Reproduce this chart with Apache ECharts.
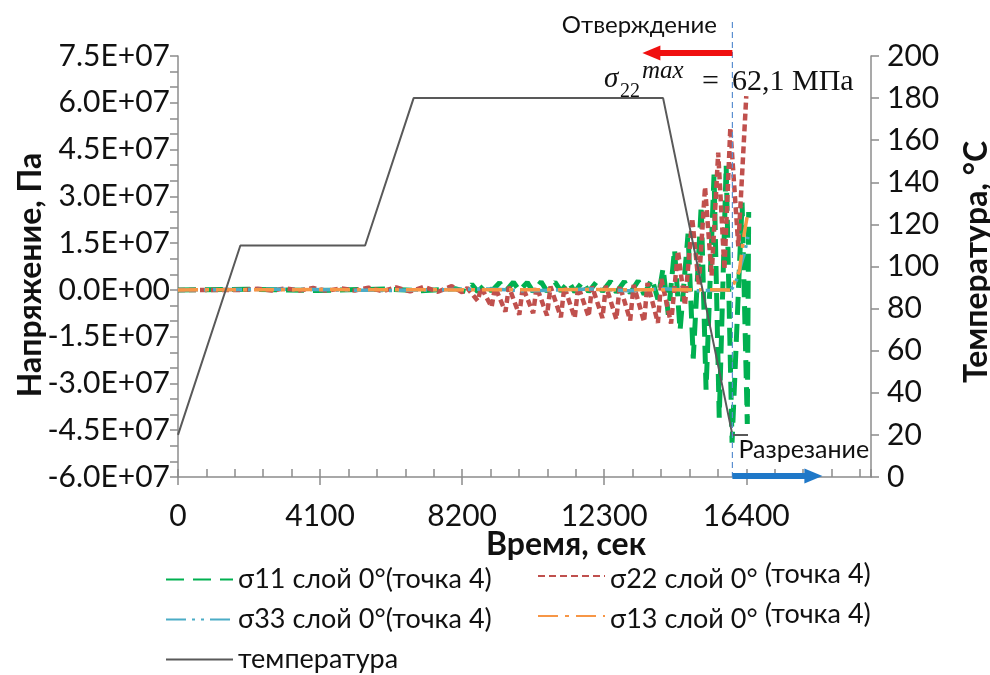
<!DOCTYPE html>
<html>
<head>
<meta charset="utf-8">
<script src="https://cdn.jsdelivr.net/npm/echarts@6/dist/echarts.min.js"></script>
<style>
  html, body { margin: 0; padding: 0; background: #fff; }
  #chart { width: 990px; height: 675px; }
</style>
</head>
<body>
<div id="chart"></div>
<script>
// Time ticks (s) and axis ranges
const timeTicks = [0, 4100, 8200, 12300, 16400];
const stressTicks = [-6.0e7, -4.5e7, -3.0e7, -1.5e7, 0, 1.5e7, 3.0e7, 4.5e7, 6.0e7, 7.5e7];
const tempTicks = [0, 20, 40, 60, 80, 100, 120, 140, 160, 180, 200];

// Moment of cutting, s
const cutTime = 16000;

// Cure cycle temperature, [s, °C]
const temperature = [[0, 20], [1800, 110], [5400, 110], [6800, 180], [14000, 180], [16000, 20], [16450, 20]];

// Stresses in layer 0° (point 4), [s, MPa]
const sigma11 = [
  [0, 0], [2000, 0.2], [4000, -0.2], [6000, 0.3], [7000, -0.3], [8000, 0.4], [8300, -0.5],
  [8480, 1.8], [8650, -0.6], [8880, 2.0], [9050, -0.4], [9280, 2.3], [9450, -0.5],
  [9680, 2.5], [9850, -0.3], [10080, 2.4], [10250, -0.6], [10480, 2.6], [10650, -0.5],
  [10880, 2.5], [11050, -0.4], [11280, 2.6], [11450, -0.7], [11680, 2.7], [11850, -0.6],
  [12080, 2.6], [12250, -0.5], [12480, 2.8], [12650, -0.8], [12880, 2.7], [13050, -1.0],
  [13280, 2.9], [13450, -1.5], [13680, 3.5], [13850, -3.0], [14000, 7], [14150, -8],
  [14330, 13], [14490, -13], [14720, 18], [14870, -22], [15100, 27], [15240, -32],
  [15470, 37], [15620, -41], [15820, 40], [15990, -49], [16280, 28], [16430, -43], [16470, 25]
];
const sigma22 = [
  [0, 0], [1900, 0], [2300, 0.4], [2700, -0.2], [3100, 0.5], [3500, -0.2], [3900, 0.6],
  [4300, -0.3], [4700, 0.5], [5100, -0.2], [5500, 0.7], [5900, -0.4], [6300, 0.8],
  [6700, -0.5], [7100, 1.0], [7500, -0.6], [7900, 1.2], [8200, -0.8],
  [8350, 0.6], [8650, -3.5], [8750, 0.8], [9050, -5.5], [9150, 0.9], [9450, -7.0],
  [9550, 1.0], [9850, -8.0], [9950, 0.9], [10250, -7.5], [10350, 1.0], [10650, -8.2],
  [10750, 1.1], [11050, -8.8], [11150, 1.0], [11450, -9.0], [11550, 1.2], [11850, -8.6],
  [11950, 1.1], [12250, -9.0], [12350, 1.3], [12650, -9.4], [12750, 1.4], [13050, -9.8],
  [13150, 1.6], [13450, -10.2], [13550, 2.2], [13850, -10.6], [13950, 3.5], [14230, -10.8],
  [14430, 12.5], [14630, -5], [14840, 23], [15030, 1.5], [15210, 33], [15400, 4.5],
  [15590, 44], [15770, 6.5], [15940, 52], [16170, 14], [16400, 62.1]
];
const sigma33 = [
  [0, 0], [3000, 0.2], [6000, -0.2], [9000, 0.3], [10000, -0.3], [12000, 0.3], [13000, -0.3],
  [14000, 0.4], [15000, -0.3], [15960, 0], [16100, 2.5], [16350, 12], [16450, 17]
];
const sigma13 = [
  [0, 0], [4000, 0.1], [8000, 0], [12000, 0.1], [15960, 0], [16200, 6], [16340, 18], [16450, 25]
];

const names = {
  s11: 'σ11 слой 0°(точка 4)',
  s22: 'σ22 слой 0° (точка 4)',
  s33: 'σ33 слой 0°(точка 4)',
  s13: 'σ13 слой 0° (точка 4)',
  temp: 'температура'
};

const MPA = 1e6;
const toPa = arr => arr.map(([t, v]) => [t, v * MPA]);

const FONT = 'Lato, "Open Sans", sans-serif';
const SERIF = '"Liberation Serif", "DejaVu Serif", serif';
const AXIS_COLOR = '#8c8c8c';
const TEXT_COLOR = '#111';

function sci(v) {
  if (v === 0) return '0.0E+00';
  const e = Math.floor(Math.log10(Math.abs(v)) + 1e-9);
  const m = v / Math.pow(10, e);
  return m.toFixed(1) + 'E' + (e < 0 ? '-' : '+') + String(Math.abs(e)).padStart(2, '0');
}

const chart = echarts.init(document.getElementById('chart'), null, { renderer: 'canvas' });

const gridBox = { left: 178, right: 119, top: 56, bottom: 198 };

function lineSeries(name, data, color, width, dash, z) {
  return {
    name, type: 'line', data: toPa(data), xAxisIndex: 0, yAxisIndex: 0,
    symbol: 'none', showSymbol: false, z,
    lineStyle: { color, width, type: dash, cap: 'butt' },
    itemStyle: { color }
  };
}

// one legend block per entry; the "(точка 4)" part of the right column sits slightly higher
function legendAt(name, left, top, raised) {
  const lg = {
    data: [name], left, top, padding: 0, itemGap: 0,
    itemWidth: 67, itemHeight: 16,
    itemStyle: { color: 'rgba(0,0,0,0)', borderColor: 'rgba(0,0,0,0)', borderWidth: 0 },
    textStyle: {
      fontFamily: FONT, fontSize: 27, color: TEXT_COLOR,
      rich: {
        a: { fontFamily: FONT, fontSize: 27, color: TEXT_COLOR, verticalAlign: 'bottom', lineHeight: 34 },
        b: { fontFamily: FONT, fontSize: 27, color: TEXT_COLOR, verticalAlign: 'bottom', lineHeight: 34, padding: [0, 0, 5, 7] }
      }
    }
  };
  if (raised) {
    lg.formatter = n => {
      const i = n.indexOf('(');
      return '{a|' + n.slice(0, i).trim() + '}{b|' + n.slice(i) + '}';
    };
  }
  return lg;
}

const option = {
  animation: false,
  backgroundColor: '#fff',
  grid: gridBox,
  legend: [
    legendAt(names.s11, 165, 566, false),
    legendAt(names.s22, 537, 561, true),
    legendAt(names.s33, 165, 606, false),
    legendAt(names.s13, 537, 601, true),
    legendAt(names.temp, 165, 646, false)
  ],
  xAxis: [
    {
      type: 'value', min: 0, max: 20000, interval: timeTicks[1] - timeTicks[0],
      axisLine: { show: true, onZero: false, lineStyle: { color: AXIS_COLOR, width: 1.5 } },
      axisTick: { show: true, inside: false, length: 8, lineStyle: { color: AXIS_COLOR, width: 1.5 } },
      axisLabel: {
        fontFamily: FONT, fontSize: 30, color: TEXT_COLOR, margin: 24, showMaxLabel: false,
        formatter: v => (timeTicks.indexOf(v) >= 0 ? String(v) : '')
      },
      splitLine: { show: false }
    },
    {
      // minor time ticks, drawn inside the plot
      type: 'value', min: 0, max: 20000, interval: (timeTicks[1] - timeTicks[0]) / 5,
      position: 'bottom',
      axisLine: { show: false, onZero: false },
      axisTick: { show: true, inside: true, length: 8, lineStyle: { color: AXIS_COLOR, width: 1.5 } },
      axisLabel: { show: false },
      splitLine: { show: false }
    }
  ],
  yAxis: [
    {
      type: 'value', min: stressTicks[0], max: stressTicks[stressTicks.length - 1],
      interval: stressTicks[1] - stressTicks[0],
      axisLine: { show: true, onZero: false, lineStyle: { color: AXIS_COLOR, width: 1.5 } },
      axisTick: { show: true, inside: false, length: 8, lineStyle: { color: AXIS_COLOR, width: 1.5 } },
      minorTick: { show: true, splitNumber: 3, length: 8, lineStyle: { color: AXIS_COLOR, width: 1.5 } },
      axisLabel: { fontFamily: FONT, fontSize: 30, color: TEXT_COLOR, margin: 8, formatter: sci },
      splitLine: { show: false }, minorSplitLine: { show: false }
    },
    {
      type: 'value', min: tempTicks[0], max: tempTicks[tempTicks.length - 1],
      interval: tempTicks[1] - tempTicks[0], position: 'right',
      axisLine: { show: true, onZero: false, lineStyle: { color: AXIS_COLOR, width: 1.5 } },
      axisTick: { show: true, inside: false, length: 8, lineStyle: { color: AXIS_COLOR, width: 1.5 } },
      axisLabel: { fontFamily: FONT, fontSize: 30, color: TEXT_COLOR, margin: 16 },
      splitLine: { show: false }
    }
  ],
  series: [
    lineSeries(names.s11, sigma11, '#00B050', 5, [18, 9], 2),
    lineSeries(names.s22, sigma22, '#C0504D', 4.5, [7, 4], 3),
    lineSeries(names.s33, sigma33, '#4BACC6', 3.5, [20, 6, 3, 6, 3, 6], 4),
    lineSeries(names.s13, sigma13, '#F79646', 3.5, [20, 7, 4, 7], 5),
    {
      name: names.temp, type: 'line', data: temperature, xAxisIndex: 0, yAxisIndex: 1,
      symbol: 'none', showSymbol: false, z: 6,
      lineStyle: { color: '#595959', width: 2 }, itemStyle: { color: '#595959' }
    }
  ]
};

chart.setOption(option);

// Annotations tied to the cutting moment
const [xCut, yBottom] = chart.convertToPixel({ xAxisIndex: 0, yAxisIndex: 0 }, [cutTime, stressTicks[0]]);
const peak22 = Math.max(...sigma22.map(p => p[1]));
const peakText = peak22.toFixed(1).replace('.', ',') + ' МПа';

const titleFont = 'bold 32px ' + FONT;

chart.setOption({
  graphic: [
    // axis titles
    {
      type: 'text', z: 21, x: 31, y: 275, rotation: Math.PI / 2,
      style: { text: 'Напряжение, Па', font: titleFont, fill: TEXT_COLOR, align: 'center', verticalAlign: 'middle' }
    },
    {
      type: 'text', z: 21, x: 977, y: 262, rotation: Math.PI / 2,
      style: { text: 'Температура, °C', font: titleFont, fill: TEXT_COLOR, align: 'center', verticalAlign: 'middle' }
    },
    {
      type: 'text', z: 21, x: 566, y: 545,
      style: { text: 'Время, сек', font: titleFont, fill: TEXT_COLOR, align: 'center', verticalAlign: 'middle' }
    },
    {
      type: 'line', z: 20,
      shape: { x1: xCut, y1: 22, x2: xCut, y2: yBottom },
      style: { stroke: '#5B8FD0', lineWidth: 1.2, lineDash: [6, 4] }
    },
    // curing arrow (to the left)
    {
      type: 'line', z: 20,
      shape: { x1: xCut, y1: 53, x2: xCut - 74, y2: 53 },
      style: { stroke: '#F01010', lineWidth: 6 }
    },
    {
      type: 'polygon', z: 20,
      shape: { points: [[xCut - 90, 53], [xCut - 72, 45.5], [xCut - 72, 60.5]] },
      style: { fill: '#F01010' }
    },
    // cutting arrow (to the right)
    {
      type: 'line', z: 20,
      shape: { x1: xCut, y1: yBottom - 1, x2: xCut + 74, y2: yBottom - 1 },
      style: { stroke: '#1F78C8', lineWidth: 6 }
    },
    {
      type: 'polygon', z: 20,
      shape: { points: [[xCut + 90, yBottom - 1], [xCut + 72, yBottom - 8.5], [xCut + 72, yBottom + 6.5]] },
      style: { fill: '#1F78C8' }
    },
    {
      type: 'text', z: 21, x: 717, y: 25,
      style: { text: 'Отверждение', font: '24px ' + FONT, fill: TEXT_COLOR, align: 'right', verticalAlign: 'middle' }
    },
    {
      type: 'text', z: 21, x: xCut + 6, y: 450,
      style: { text: 'Разрезание', font: '25px ' + FONT, fill: TEXT_COLOR, align: 'left', verticalAlign: 'middle' }
    },
    // sigma_22^max label
    {
      type: 'text', z: 21, x: 604, y: 79,
      style: { text: 'σ', font: 'italic 29px ' + SERIF, fill: TEXT_COLOR, align: 'left', verticalAlign: 'middle' }
    },
    {
      type: 'text', z: 21, x: 620, y: 92,
      style: { text: '22', font: '20px ' + SERIF, fill: TEXT_COLOR, align: 'left', verticalAlign: 'middle' }
    },
    {
      type: 'text', z: 21, x: 642, y: 71,
      style: { text: 'max', font: 'italic 25px ' + SERIF, fill: TEXT_COLOR, align: 'left', verticalAlign: 'middle' }
    },
    {
      type: 'text', z: 21, x: 702, y: 82,
      style: { text: '=', font: '30px ' + SERIF, fill: TEXT_COLOR, align: 'left', verticalAlign: 'middle' }
    },
    {
      type: 'text', z: 21, x: 732, y: 82,
      style: { text: peakText, font: '30px ' + SERIF, fill: TEXT_COLOR, align: 'left', verticalAlign: 'middle' }
    }
  ]
});
</script>
</body>
</html>
